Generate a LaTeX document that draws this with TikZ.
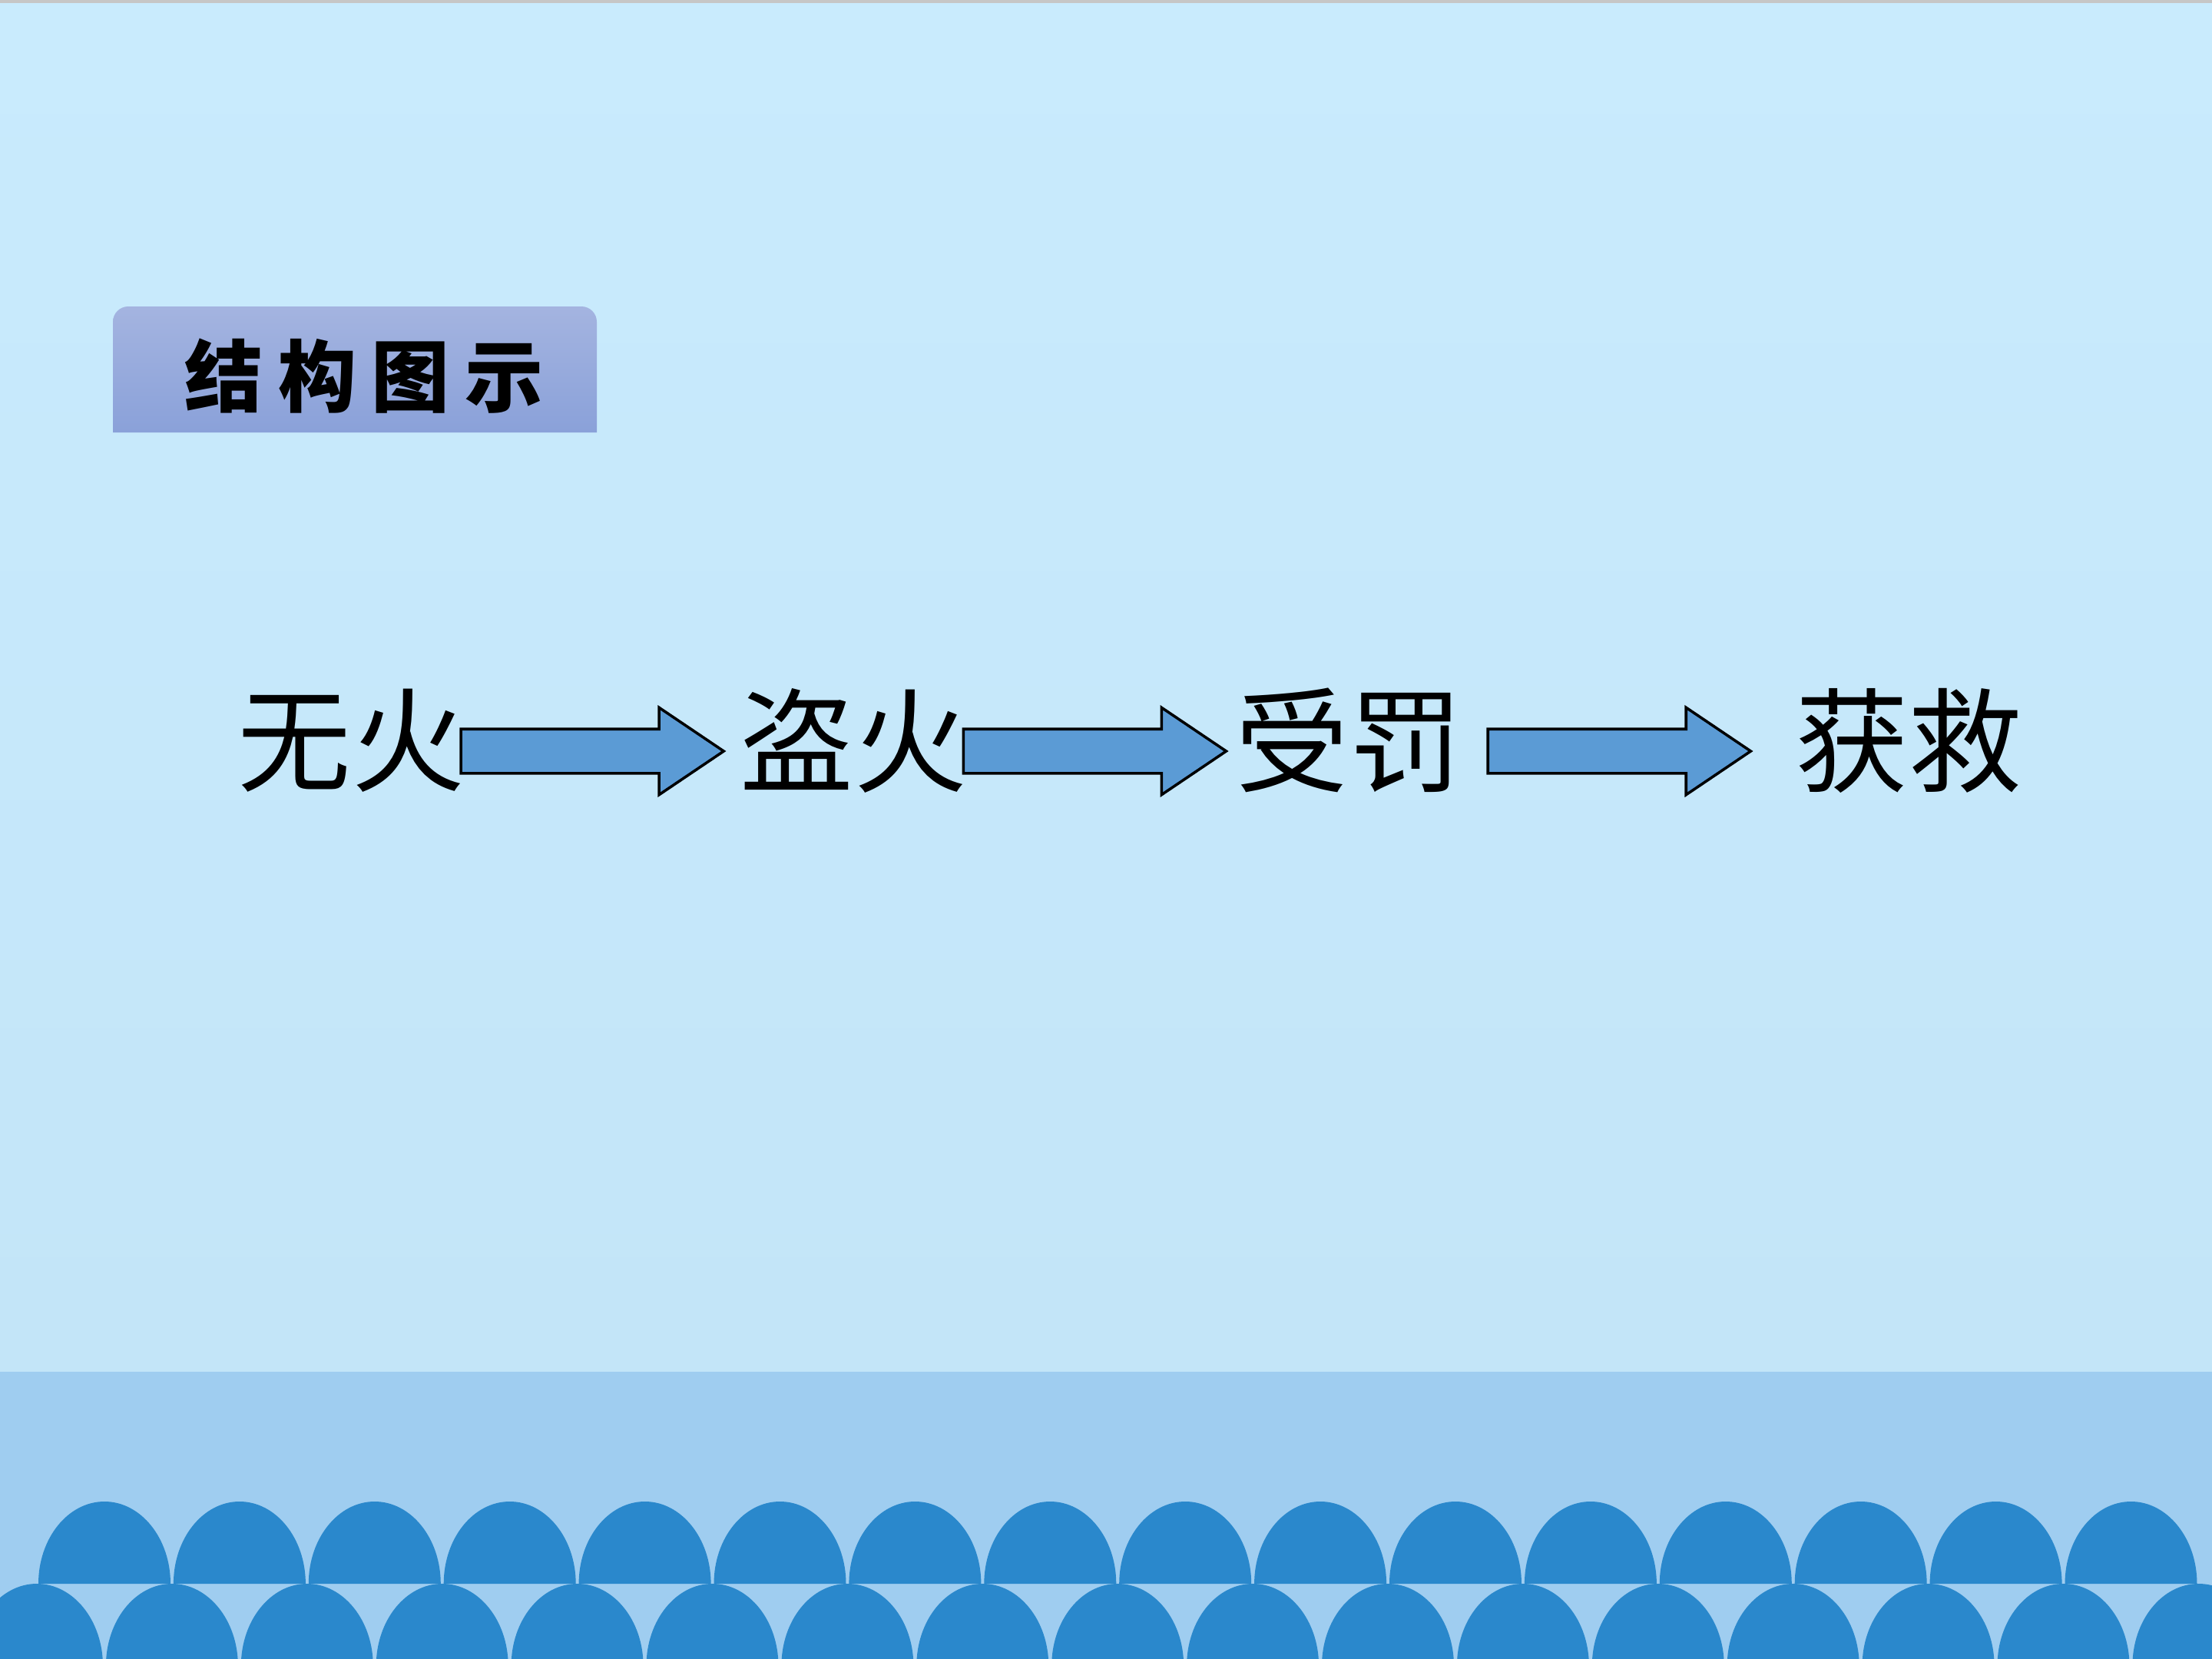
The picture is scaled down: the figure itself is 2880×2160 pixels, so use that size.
\documentclass[tikz,border=0pt]{standalone}
\usepackage{fontspec}
\newfontfamily\cjk{Noto Sans CJK SC}
\newfontfamily\cjkwide[LetterSpace=19]{Noto Sans CJK SC}
\usetikzlibrary{shapes.arrows,positioning}
\definecolor{bgtop}{HTML}{C9EBFD}
\definecolor{bgbot}{HTML}{C3E5F8}
\definecolor{band}{HTML}{9FCDF0}
\definecolor{wave}{HTML}{2A88CC}
\definecolor{arrowfill}{HTML}{5B9BD5}
\definecolor{titletop}{HTML}{A4B4E0}
\definecolor{titlebot}{HTML}{8AA1D9}
\tikzset{
  word/.style     = {font=\cjk\fontsize{42}{50}\selectfont, inner sep=0pt},
  titleword/.style= {font=\cjkwide\bfseries\fontsize{29}{34}\selectfont, inner sep=0pt},
  fatarrow/.style = {single arrow, draw=black, line width=1pt, fill=arrowfill,
                     minimum height=3.42cm, inner xsep=0pt, inner ysep=0.27cm,
                     single arrow head extend=0.28cm, single arrow tip angle=68,
                     xshift=-0.27cm, yshift=-0.14cm},
  bump/.style     = {fill=wave},
}

\begin{document}
\begin{tikzpicture}[x=0.01cm,y=-0.01cm]
  \useasboundingbox (0,0) rectangle (2880,2160);
  % background and sea band
  \shade[top color=bgtop, bottom color=bgbot] (0,0) rectangle (2880,1786);
  \fill[gray!45] (0,0) rectangle (2880,4);
  \fill[band] (0,1786) rectangle (2880,2160);
  \foreach \k in {0,...,16}
    {\fill[bump] ({48+175.9*\k-86},2169) arc[start angle=180, end angle=360, x radius=86, y radius=107] -- cycle;}
  \foreach \k in {0,...,15}
    {\fill[bump] ({136+175.9*\k-86},2062) arc[start angle=180, end angle=360, x radius=86, y radius=107] -- cycle;}
  % title tab
  \shade[top color=titletop, middle color=titletop!55!titlebot, bottom color=titlebot]
    (147,563) [rounded corners=0.2cm] -- (147,399) -- (777,399) [sharp corners] -- (777,563) -- cycle;
  \node[titleword] (title) at (474,490) {结构图示};
  % story chain
  \node[word] (wuhuo)  at (457,964)  {无火};
  \node[word] (daohuo) at (1111,964) {盗火};
  \node[word] (shoufa) at (1756,964) {受罚};
  \node[word] (huojiu) at (2485,964) {获救};
  \path (wuhuo)  -- node[fatarrow, pos=0.48] (arr1) {} (daohuo);
  \path (daohuo) -- node[fatarrow, pos=0.493] (arr2) {} (shoufa);
  \path (shoufa) -- node[fatarrow, pos=0.485] (arr3) {} (huojiu);
\end{tikzpicture}
\end{document}
